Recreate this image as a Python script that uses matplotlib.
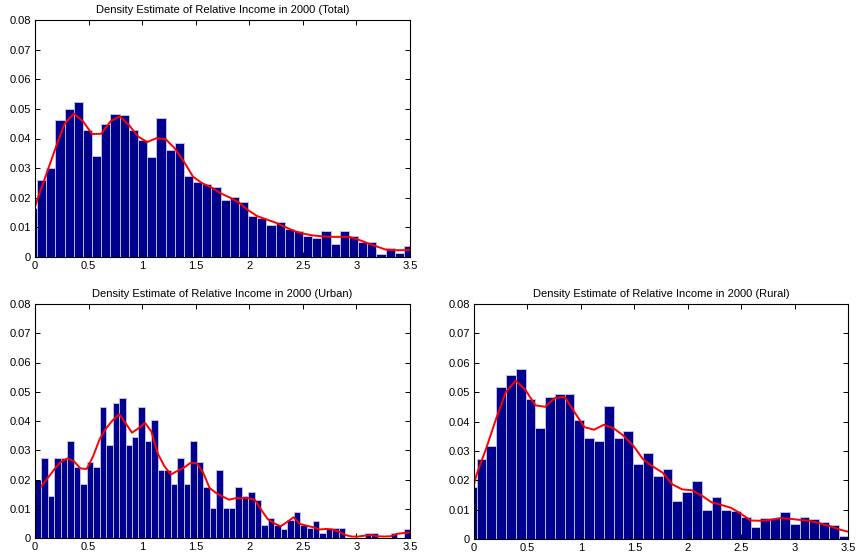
import numpy as np
import matplotlib.pyplot as plt

plt.rcParams['font.family'] = ['Liberation Sans', 'DejaVu Sans']

# histogram heights
total_h = [0.0167, 0.026, 0.030, 0.0463, 0.050, 0.0524, 0.0429, 0.0341, 0.045, 0.0484,
           0.0478, 0.0429, 0.0395, 0.0337, 0.0468, 0.0362, 0.0384, 0.0273, 0.0253, 0.0245,
           0.0237, 0.0192, 0.0201, 0.0184, 0.0139, 0.0133, 0.0107, 0.0119, 0.0096, 0.0087,
           0.0071, 0.0064, 0.0087, 0.0045, 0.0087, 0.0070, 0.0051, 0.0051, 0.0010, 0.0032,
           0.0015, 0.0038]
urban_h = [0.020, 0.0273, 0.0144, 0.0273, 0.0273, 0.0333, 0.0244, 0.0186, 0.026, 0.0244,
           0.0448, 0.0318, 0.0463, 0.0477, 0.0318, 0.0346, 0.0448, 0.0333, 0.0404, 0.0231,
           0.0231, 0.0186, 0.0273, 0.0186, 0.0333, 0.026, 0.0173, 0.0102, 0.0231, 0.0102,
           0.0102, 0.0173, 0.0144, 0.0158, 0.0130, 0.0044, 0.0070, 0.0044, 0.0030, 0.0062,
           0.0088, 0.0045, 0.0033, 0.0059, 0.0017, 0.0033, 0.0033, 0.0033, 0, 0,
           0, 0.0017, 0.0017, 0, 0, 0.0017, 0, 0.0031]
rural_h = [0.0177, 0.0274, 0.0315, 0.0516, 0.0558, 0.0578, 0.0478, 0.0378, 0.0484, 0.0495,
           0.0495, 0.0406, 0.0344, 0.0334, 0.0453, 0.0343, 0.0369, 0.0255, 0.0292, 0.0214,
           0.0240, 0.0131, 0.0161, 0.0196, 0.0100, 0.0144, 0.0100, 0.0094, 0.0075, 0.0042,
           0.0071, 0.0071, 0.0091, 0.0052, 0.0075, 0.0068, 0.0058, 0.0048, 0.0010]

# kernel density estimates (red lines)
total_kde = [0.0170, 0.0192, 0.0279, 0.0367, 0.0450, 0.0484, 0.0458, 0.0415, 0.0416, 0.0458,
             0.0475, 0.0446, 0.0407, 0.0388, 0.0401, 0.0398, 0.0367, 0.0322, 0.0271, 0.0249,
             0.0235, 0.0215, 0.0201, 0.0184, 0.0158, 0.0138, 0.0127, 0.0116, 0.0102, 0.0088,
             0.0079, 0.0073, 0.0070, 0.0068, 0.0068, 0.0068, 0.0059, 0.0047, 0.0036, 0.0025,
             0.0023, 0.0023, 0.0025]
urban_kde = [0.0177, 0.0206, 0.0235, 0.0260, 0.0272, 0.0263, 0.0238, 0.0236, 0.0280, 0.0338,
             0.0375, 0.0402, 0.0423, 0.0393, 0.0360, 0.0375, 0.0394, 0.0364, 0.0288, 0.0246,
             0.0217, 0.0229, 0.0240, 0.0256, 0.0256, 0.0224, 0.0171, 0.0154, 0.0142, 0.0131,
             0.0136, 0.0136, 0.0136, 0.0131, 0.0096, 0.0064, 0.0050, 0.0040, 0.0055, 0.0071,
             0.0048, 0.0042, 0.0037, 0.0029, 0.0031, 0.0029, 0.0022, 0.0010, 0.0005, 0.0005,
             0.0008, 0.0010, 0.0006, 0.0005, 0.0006, 0.0014, 0.0017, 0.0019]
rural_kde = [0.0186, 0.0220, 0.0310, 0.0410, 0.0501, 0.0539, 0.0507, 0.0455, 0.0450, 0.0480,
             0.0484, 0.0432, 0.0381, 0.0372, 0.0389, 0.0377, 0.0352, 0.0318, 0.0272, 0.0247,
             0.0226, 0.0186, 0.0169, 0.0166, 0.0148, 0.0125, 0.0116, 0.0106, 0.0086, 0.0063,
             0.0062, 0.0065, 0.0071, 0.0069, 0.0065, 0.0062, 0.0054, 0.0045, 0.0033, 0.0025]

titles = ['Density Estimate of Relative Income in 2000 (Total)',
          'Density Estimate of Relative Income in 2000 (Urban)',
          'Density Estimate of Relative Income in 2000 (Rural)']

# bin geometry: first bin centre and bin width
total_c0, total_w = -0.023, 0.0856
urban_w = 3.5 / len(urban_h)
rural_w = 0.0916
rural_c0 = 3.505 - (len(rural_h) - 0.5) * rural_w

total_x = total_c0 + total_w * np.arange(len(total_h))
urban_x = urban_w * (np.arange(len(urban_h)) + 0.5)
rural_x = rural_c0 + rural_w * np.arange(len(rural_h))

total_kx = np.concatenate([[0], total_c0 + total_w * (np.arange(1, len(total_h)) - 0.5), [3.5]])
urban_kx = urban_w * np.arange(1, len(urban_h) + 1)
rural_kx = np.concatenate([[0], rural_c0 + rural_w * (np.arange(1, len(rural_h)) - 0.5), [3.5]])

fig = plt.figure(figsize=(8.56, 5.57), dpi=100)
W, H = 856.0, 557.0
ax1 = fig.add_axes([35 / W, 1 - 257 / H, 375 / W, 237 / H])
ax2 = fig.add_axes([35 / W, 1 - 538 / H, 375 / W, 234 / H])
ax3 = fig.add_axes([474 / W, 1 - 539 / H, 374 / W, 235 / H])

panels = [(ax1, total_x, total_h, total_w, total_kx, total_kde, titles[0]),
          (ax2, urban_x, urban_h, urban_w, urban_kx, urban_kde, titles[1]),
          (ax3, rural_x, rural_h, rural_w, rural_kx, rural_kde, titles[2])]

for ax, bx, bh, bw, kx, ky, title in panels:
    ax.bar(bx, bh, width=bw, color='#00008f', edgecolor='#c8c8ee', linewidth=0.6)
    ax.plot(kx, ky, color='#ff0000', linewidth=1.4)
    ax.set_xlim(0, 3.5)
    ax.set_ylim(0, 0.08)
    ax.set_xticks(np.arange(0, 3.51, 0.5))
    ax.set_xticklabels(['0', '0.5', '1', '1.5', '2', '2.5', '3', '3.5'])
    ax.set_yticks(np.arange(0, 0.081, 0.01))
    ax.set_yticklabels(['0', '0.01', '0.02', '0.03', '0.04', '0.05', '0.06', '0.07', '0.08'])
    ax.tick_params(direction='in', top=True, right=True, length=3.5, width=0.7,
                   labelsize=8, pad=3)
    for s in ax.spines.values():
        s.set_linewidth(0.8)
    ax.set_title(title, fontsize=8, pad=5)

fig.savefig('out.png', dpi=100)
